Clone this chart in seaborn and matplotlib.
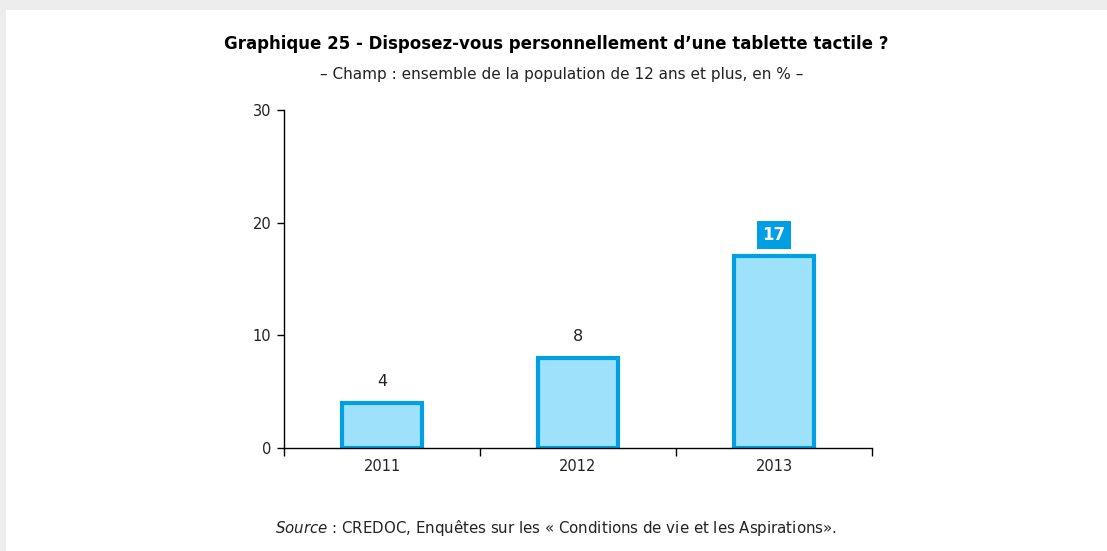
import matplotlib
matplotlib.use('Agg')
import matplotlib.pyplot as plt
import seaborn as sns
import pandas as pd
from matplotlib.patches import Rectangle

# data
years = ['2011', '2012', '2013']
share = [4, 8, 17]
highlight = '2013'

title = 'Graphique 25 - Disposez-vous personnellement d\u2019une tablette tactile ?'
subtitle = '\u2013 Champ : ensemble de la population de 12 ans et plus, en % \u2013'
source = '$\\it{Source}$ : CREDOC, Enqu\u00eates sur les \u00ab Conditions de vie et les Aspirations\u00bb.'

df = pd.DataFrame({'annee': years, 'part': share})

sns.set_style('white')
plt.rcParams['font.family'] = ['DejaVu Sans']

fill_col = '#9EE1FB'
edge_col = '#00A0E2'

fig = plt.figure(figsize=(11.07, 5.51), dpi=100)
fig.patch.set_facecolor('#EDEDED')
# white page with grey margins at top/left
fig.add_artist(Rectangle((6 / 1107, 0), 1 - 6 / 1107, 1 - 10 / 551,
                         transform=fig.transFigure, facecolor='white',
                         edgecolor='none', zorder=-10))

ax = fig.add_axes([284 / 1107, 103 / 551, 588 / 1107, 338 / 551])
ax.set_facecolor('none')

sns.barplot(data=df, x='annee', y='part', ax=ax, width=0.41,
            color=fill_col, edgecolor=edge_col, linewidth=3, saturation=1)

ax.set_xlim(-0.5, 2.5)
ax.set_ylim(0, 30)
ax.set_yticks([0, 10, 20, 30])
ax.set_xlabel('')
ax.set_ylabel('')

# separators between categories
ax.set_xticks([-0.5, 0.5, 1.5, 2.5], minor=True)
ax.tick_params(axis='x', which='major', length=0, pad=8, labelsize=10.5, labelcolor='#222222')
ax.tick_params(axis='x', which='minor', direction='out', length=6, width=1, color='black')
ax.tick_params(axis='y', direction='out', length=5, width=1, color='black',
               labelsize=10.5, labelcolor='#222222', pad=4)
ax.yaxis.set_ticks_position('left')
ax.xaxis.set_ticks_position('bottom')

for s in ['top', 'right']:
    ax.spines[s].set_visible(False)
for s in ['left', 'bottom']:
    ax.spines[s].set_color('black')
    ax.spines[s].set_linewidth(1)
    ax.spines[s].set_zorder(5)

for i, (yr, v) in enumerate(zip(years, share)):
    if yr == highlight:
        ax.annotate(str(v), (i, v), xytext=(0, 9), textcoords='offset points',
                    ha='center', va='bottom', fontsize=12, fontweight='bold', color='white',
                    bbox=dict(boxstyle='square,pad=0.3', facecolor='#009FE3', edgecolor='none'))
    else:
        ax.annotate(str(v), (i, v), xytext=(0, 10), textcoords='offset points',
                    ha='center', va='bottom', fontsize=11.5, color='#222222')

fig.text(556 / 1107, 1 - 44 / 551, title, ha='center', va='center',
         fontsize=12, fontweight='bold', color='black')
fig.text(562 / 1107, 1 - 75 / 551, subtitle, ha='center', va='center',
         fontsize=11, color='#222222')
fig.text(556 / 1107, 1 - 528 / 551, source,
         ha='center', va='center', fontsize=10.8, color='#222222')

fig.savefig('out.png', dpi=100, facecolor=fig.get_facecolor())
